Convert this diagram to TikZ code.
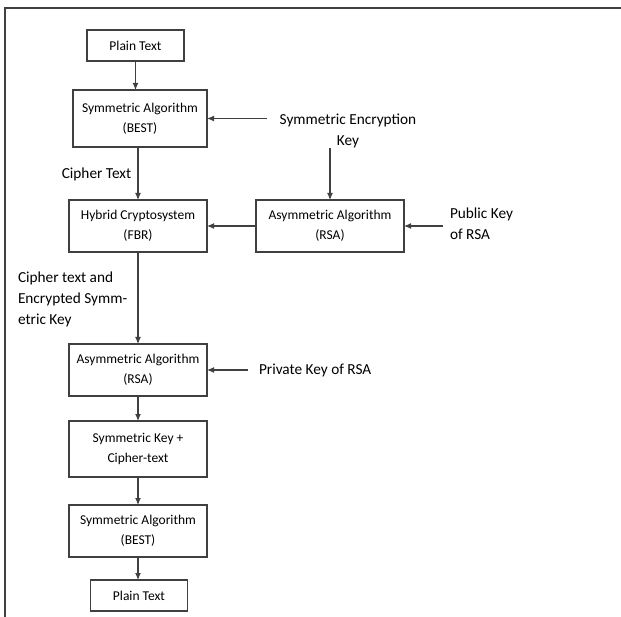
\documentclass[tikz,border=0pt]{standalone}
\usepackage{fontspec}
\setmainfont{Carlito}
\usetikzlibrary{arrows.meta}
\usetikzlibrary{positioning}
\definecolor{linecol}{HTML}{404040}
\tikzstyle{flow} = [-{Latex[length=7pt,width=6pt]},linecol,line width=1.1pt]
\tikzstyle{frame} = [linecol,line width=1.5pt]
\tikzset{
  basic box/.style = {
    shape = rectangle,
    draw = linecol,
    line width = 1.3pt,
    align = center,
    inner sep = 0pt,
    outer sep = 0pt,
    font = \fontsize{13.5}{20}\selectfont,
    },
  algo box/.style = {
    basic box,
    minimum width = 138pt,
    minimum height = 52pt,
  },
  text box/.style = {
    basic box,
    minimum width = 97pt,
    minimum height = 31pt,
  },
  note/.style = {
    inner sep = 0pt,
    outer sep = 0pt,
    font = \fontsize{15.3}{21}\selectfont,
  },
}

\begin{document}
\begin{tikzpicture}
    \useasboundingbox (0,0) rectangle (621pt,-617pt);

    % encryption side
    \node [text box] (ptop) at (135.5pt,-45.5pt) {Plain Text};
    \node [algo box, below=29pt of ptop, xshift=4.5pt, minimum width=134pt,
    minimum height=57pt] (sym1) {Symmetric Algorithm\\(BEST)};
    \node [algo box, below=53pt of sym1, xshift=-2pt] (hyb) {Hybrid Cryptosystem\\(FBR)};
    \node [algo box, right=49pt of hyb, minimum width=148pt] (asym1) {Asymmetric Algorithm\\(RSA)};

    % decryption side
    \node [algo box, below=92pt of hyb] (asym2) {Asymmetric Algorithm\\(RSA)};
    \node [algo box, below=25pt of asym2, minimum height=56pt] (skey) {Symmetric Key +\\Cipher-text};
    \node [algo box, below=28pt of skey] (sym2) {Symmetric Algorithm\\(BEST)};
    \node [text box, below=23pt of sym2, xshift=1pt] (pbot) {Plain Text};

    % keys and labels
    \node [note, align=center] (enckey) at (348pt,-131pt) {Symmetric Encryption\\Key};
    \node [note] (ciphlbl) at (96.5pt,-174pt) {Cipher Text};
    \node [note, align=left, anchor=west] (pubkey) at (450pt,-224pt) {Public Key\\of RSA};
    \node [note, align=left, anchor=west] (ctlbl) at (18pt,-299pt) {Cipher text and\\Encrypted Symm-\\etric Key};
    \node [note, anchor=west] (privkey) at (259pt,-370pt) {Private Key of RSA};

    % frame
    \draw[frame] (621pt,-8pt) -- (5pt,-8pt) -- (5pt,-617pt);

    % Paths
    \draw[flow] (ptop.south) -- (ptop.south |- sym1.north);
    \draw[flow] (hyb |- sym1.south) -- (hyb.north);
    \draw[flow] ([xshift=-13pt]enckey.west |- sym1.east) -- (sym1.east);
    \draw[flow] (enckey.south -| asym1) -- (asym1.north);
    \draw[flow] (asym1.west) -- (hyb.east);
    \draw[flow] ([xshift=-7pt]pubkey.west |- asym1.east) -- (asym1.east);
    \draw[flow] (hyb.south) -- (asym2.north);
    \draw[flow] ([xshift=-11pt]privkey.west) -- (asym2.east);
    \draw[flow] (asym2.south) -- (skey.north);
    \draw[flow] (skey.south) -- (sym2.north);
    \draw[flow] (sym2.south) -- (sym2.south |- pbot.north);
\end{tikzpicture}
\end{document}
